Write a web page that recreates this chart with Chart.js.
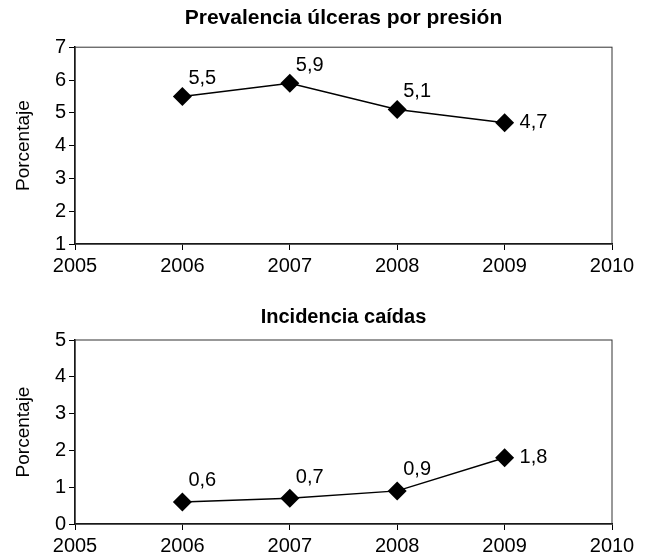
<!DOCTYPE html>
<html>
<head>
<meta charset="utf-8">
<script src="https://cdn.jsdelivr.net/npm/chart.js@4.4.1/dist/chart.umd.min.js"></script>
<style>
  body { margin: 0; background: #fff; }
  .box { position: absolute; left: 0; width: 651px; height: 278px; }
</style>
</head>
<body>
<div class="box" style="top:0"><canvas id="ulcerasChart"></canvas></div>
<div class="box" style="top:278px"><canvas id="caidasChart"></canvas></div>
<script>
const years = [2006, 2007, 2008, 2009];
const ulceras = [5.5, 5.9, 5.1, 4.7];
const caidas = [0.6, 0.7, 0.9, 1.8];
const ulcerasLabels = ['5,5', '5,9', '5,1', '4,7'];
const caidasLabels = ['0,6', '0,7', '0,9', '1,8'];

const FONT = '"Liberation Sans", Arial, sans-serif';
Chart.defaults.font.family = FONT;
Chart.defaults.color = '#000';

// box round the plot area (top and right sides), title centred over the plot
const frame = {
  id: 'frame',
  afterLayout(chart) {
    chart.titleBlock.left = chart.chartArea.left;
    chart.titleBlock.right = chart.chartArea.right;
  },
  beforeDatasetsDraw(chart) {
    const { ctx, chartArea: a } = chart;
    ctx.save();
    ctx.strokeStyle = '#333';
    ctx.lineWidth = 1;
    ctx.strokeRect(a.left, a.top, a.right - a.left, a.bottom - a.top);
    ctx.restore();
  }
};

// value labels next to each point
const pointLabels = {
  id: 'pointLabels',
  afterDatasetsDraw(chart, args, opts) {
    const ctx = chart.ctx;
    const meta = chart.getDatasetMeta(0);
    ctx.save();
    ctx.font = '20px ' + FONT;
    ctx.fillStyle = '#000';
    ctx.textBaseline = 'middle';
    meta.data.forEach((pt, i) => {
      const last = i === meta.data.length - 1;
      ctx.fillText(opts.labels[i], pt.x + (last ? 15 : 6), pt.y + (last ? 0 : opts.dy));
    });
    ctx.restore();
  }
};

const makeChart = (id, values, labels, title, titleSize, yMin, yMax, pad, xHeight, dy) => {
  new Chart(document.getElementById(id), {
    type: 'line',
    data: {
      datasets: [{
        data: years.map((y, i) => ({ x: y, y: values[i] })),
        borderColor: '#000',
        borderWidth: 1.5,
        pointStyle: 'rectRot',
        pointRadius: 9.5,
        pointBackgroundColor: '#000',
        pointBorderColor: '#000',
        pointBorderWidth: 0,
        tension: 0
      }]
    },
    plugins: [frame, pointLabels],
    options: {
      responsive: true,
      maintainAspectRatio: false,
      animation: false,
      layout: { padding: { left: 0, right: 39, top: 0, bottom: 0 } },
      plugins: {
        legend: { display: false },
        tooltip: { enabled: false },
        title: {
          display: true,
          text: title,
          font: { size: titleSize, weight: 'bold' },
          color: '#000',
          padding: { top: pad[0], bottom: pad[1] }
        },
        pointLabels: { labels: labels, dy: dy }
      },
      scales: {
        x: {
          type: 'linear',
          min: 2005,
          max: 2010,
          afterFit(scale) { scale.height = xHeight; },
          ticks: { stepSize: 1, font: { size: 20 }, padding: 4, callback: v => String(v) },
          grid: { drawOnChartArea: false, tickLength: 6, color: '#000' },
          border: { color: '#000', width: 1.5 }
        },
        y: {
          min: yMin,
          max: yMax,
          afterFit(scale) { scale.width = 75; },
          ticks: { stepSize: 1, font: { size: 20 }, padding: 3 },
          grid: { drawOnChartArea: false, tickLength: 6, color: '#000' },
          border: { color: '#000', width: 1.5 },
          title: {
            display: true,
            text: 'Porcentaje',
            font: { size: 19 },
            padding: { top: 12, bottom: 0 }
          }
        }
      }
    }
  });
};

makeChart('ulcerasChart', ulceras, ulcerasLabels, 'Prevalencia úlceras por presión', 21, 1, 7, [6, 16], 34, -18);
makeChart('caidasChart', caidas, caidasLabels, 'Incidencia caídas', 20, 0, 5, [27, 11], 32, -21);
</script>
</body>
</html>
